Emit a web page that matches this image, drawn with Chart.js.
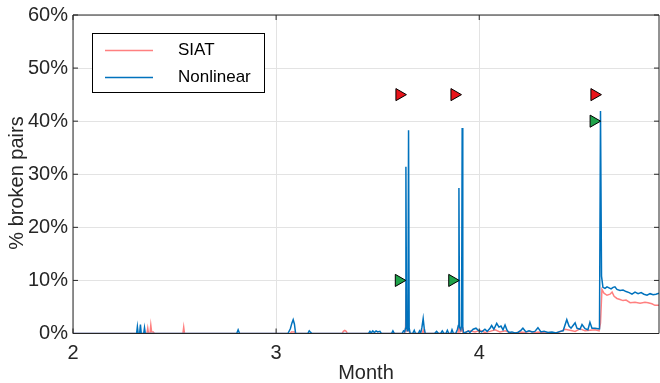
<!DOCTYPE html>
<html>
<head>
<meta charset="utf-8">
<script src="https://cdn.jsdelivr.net/npm/chart.js@4.4.1/dist/chart.umd.min.js"></script>
<style>
  html, body { margin: 0; padding: 0; background: #fff; }
  #wrap { width: 660px; height: 383px; }
</style>
</head>
<body>
<div id="wrap"><canvas id="chart" width="660" height="383"></canvas></div>
<script>
// month values (x) and % broken pairs (y)
const siatMonth = [2.000, 2.364, 2.368, 2.372, 2.379, 2.383, 2.387, 2.395, 2.398,
  2.541, 2.545, 2.549, 3.070, 3.075, 3.090, 3.095, 3.325, 3.331, 3.338, 3.345, 3.351,
  3.570, 3.576, 3.582, 3.630, 3.637, 3.641, 3.645, 3.652, 3.658, 3.720, 3.724, 3.730,
  3.895, 3.900, 3.905, 3.912, 3.916, 3.920,
  3.930, 3.954, 3.979, 4.004, 4.028, 4.053, 4.078, 4.102, 4.127, 4.151, 4.176, 4.201,
  4.225, 4.250, 4.274, 4.299, 4.324, 4.348, 4.373, 4.398, 4.422, 4.447, 4.472, 4.496,
  4.521, 4.545, 4.570, 4.590, 4.597, 4.604, 4.614, 4.629, 4.644, 4.654, 4.664, 4.678,
  4.693, 4.708, 4.723, 4.743, 4.767, 4.792, 4.816, 4.831, 4.850, 4.865, 4.885];
const siatPct = [0, 0, 1.0, 0, 0, 1.6, 0.3, 0.3, 0,
  0, 1.2, 0, 0, 0.3, 0.3, 0, 0, 0.4, 0.6, 0.4, 0,
  0, 0.3, 0, 0, 0.5, 8.7, 0.5, 0.8, 0, 0, 0.6, 0,
  0, 1.5, 0.3, 0.5, 1.2, 0,
  0.2, 0.5, 0.3, 0.6, 0.2, 0.4, 0.7, 0.3, 0.5, 0.2, 0.1, 0.3,
  0.2, 0.4, 0.2, 0.3, 0.1, 0.2, 0.1, 0.3, 0.8, 0.6, 0.4, 0.9,
  0.5, 0.6, 0.7, 0.5, 2.0, 8.3, 7.6, 7.2, 7.4, 7.8, 7.0, 6.6,
  6.4, 6.2, 6.3, 5.8, 5.9, 5.7, 5.9, 5.8, 5.6, 5.3, 5.3];

const nonlinMonth = [2.000, 2.313, 2.317, 2.321, 2.328, 2.332, 2.336, 2.348, 2.352, 2.356,
  2.806, 2.813, 2.820, 3.058, 3.070, 3.078, 3.084, 3.090, 3.096,
  3.156, 3.163, 3.170, 3.176, 3.455, 3.462, 3.468, 3.476, 3.484, 3.492, 3.500, 3.511, 3.518,
  3.568, 3.575, 3.582, 3.620, 3.627, 3.633, 3.637, 3.639, 3.642, 3.646, 3.649, 3.652, 3.655, 3.660,
  3.672, 3.680, 3.686, 3.700, 3.706, 3.712, 3.718, 3.724, 3.729, 3.734,
  3.780, 3.790, 3.800, 3.810, 3.818, 3.826, 3.836, 3.843, 3.850, 3.860, 3.866, 3.873,
  3.884, 3.893, 3.897, 3.900, 3.903, 3.909, 3.913, 3.916, 3.919, 3.924,
  3.946, 3.954, 3.970, 3.984, 3.995, 4.012, 4.028, 4.039, 4.053, 4.061, 4.072, 4.086,
  4.097, 4.107, 4.117, 4.127, 4.137, 4.146, 4.161, 4.176, 4.190, 4.205, 4.215, 4.230,
  4.245, 4.260, 4.274, 4.289, 4.304, 4.319, 4.339, 4.358, 4.378, 4.398, 4.413, 4.431,
  4.442, 4.452, 4.462, 4.472, 4.481, 4.496, 4.506, 4.521, 4.535, 4.545, 4.555, 4.570,
  4.585, 4.592, 4.597, 4.602, 4.609, 4.619, 4.629, 4.639, 4.649, 4.659, 4.668, 4.678,
  4.693, 4.708, 4.723, 4.738, 4.752, 4.767, 4.782, 4.797, 4.811, 4.826, 4.841, 4.856,
  4.870, 4.885];
const nonlinPct = [0, 0, 1.3, 0, 0, 1.7, 0, 0, 1.1, 0,
  0, 0.7, 0, 0, 0.9, 2.0, 2.6, 1.8, 0,
  0, 0.5, 0.2, 0, 0, 0.4, 0.1, 0.5, 0.2, 0.5, 0.3, 0.4, 0,
  0, 0.5, 0, 0, 0.5, 0.3, 1.0, 31.4, 2.0, 0.5, 1.0, 38.3, 1.0, 0,
  0, 0.6, 0, 0, 0.5, 0.1, 1.2, 2.8, 1.0, 0,
  0, 0.4, 0, 0, 0.5, 0, 0, 0.6, 0, 0, 0.7, 0,
  0, 0.8, 1.5, 27.4, 1.2, 0.7, 1.5, 38.7, 1.0, 0,
  0.5, 0.2, 0.8, 1.0, 0.6, 0.3, 0.8, 0.4, 1.0, 1.5, 0.8, 1.9,
  1.2, 1.4, 0.7, 1.6, 0.6, 0.2, 0.3, 0.1, 0.2, 0.6, 1.0, 0.3,
  0.5, 0.3, 0.4, 1.1, 0.3, 0.4, 0.2, 0.3, 0.1, 0.4, 0.5, 2.6,
  1.4, 1.0, 1.5, 2.0, 1.0, 0.8, 1.7, 0.9, 0.7, 2.1, 1.0, 1.0,
  0.9, 0.9, 41.9, 10.8, 8.7, 8.5, 8.8, 8.6, 8.4, 8.7, 8.8, 8.3,
  8.1, 8.2, 7.9, 7.7, 7.4, 7.8, 7.5, 7.7, 7.4, 7.2, 7.5, 7.3,
  7.4, 7.6];

// event markers
const redMarkMonth = [3.607, 3.878, 4.567];
const redMarkPct = [45, 45, 45];
const greenMarkMonth = [3.604, 3.867, 4.563];
const greenMarkPct = [10, 10, 40];

const yTicks = [0, 10, 20, 30, 40, 50, 60];
const xTicks = [2, 3, 4];
const legendNames = ['SIAT', 'Nonlinear'];
const yTitle = '% broken pairs';

const pinkColor = '#ff8080';
const blueColor = '#0072bd';
const axisColor = '#262626';
const fontFamily = '"Liberation Sans", Arial, sans-serif';

const toPoints = (xs, ys) => xs.map((x, i) => ({ x: x, y: ys[i] }));

// box frame, inward ticks, y title and legend box like the original figure
const framePlugin = {
  id: 'frame',
  afterDatasetsDraw(chart) {
    const { ctx, chartArea: a, scales } = chart;
    ctx.save();
    ctx.strokeStyle = axisColor;
    ctx.lineWidth = 1;
    ctx.beginPath();
    ctx.rect(a.left, a.top, a.right - a.left, a.bottom - a.top);
    ctx.stroke();
    ctx.beginPath();
    xTicks.forEach(t => {
      const px = scales.x.getPixelForValue(t);
      ctx.moveTo(px, a.bottom); ctx.lineTo(px, a.bottom - 5);
      ctx.moveTo(px, a.top); ctx.lineTo(px, a.top + 5);
    });
    yTicks.forEach(t => {
      const py = scales.y.getPixelForValue(t);
      ctx.moveTo(a.left, py); ctx.lineTo(a.left + 5, py);
      ctx.moveTo(a.right, py); ctx.lineTo(a.right - 5, py);
    });
    ctx.stroke();

    // y axis title
    ctx.save();
    ctx.translate(17, 183);
    ctx.rotate(-Math.PI / 2);
    ctx.font = '20px ' + fontFamily;
    ctx.fillStyle = axisColor;
    ctx.textAlign = 'center';
    ctx.textBaseline = 'middle';
    ctx.fillText(yTitle, 0, 0);
    ctx.restore();

    // legend
    const bx = 92.5, by = 33.5, bw = 172, bh = 59;
    ctx.fillStyle = '#fff';
    ctx.fillRect(bx, by, bw, bh);
    ctx.strokeStyle = '#000';
    ctx.strokeRect(bx, by, bw, bh);
    const rows = [50.5, 77.5];
    const cols = [pinkColor, blueColor];
    ctx.font = '17px ' + fontFamily;
    ctx.textBaseline = 'middle';
    rows.forEach((ry, i) => {
      ctx.strokeStyle = cols[i];
      ctx.lineWidth = 1.5;
      ctx.beginPath();
      ctx.moveTo(105, ry); ctx.lineTo(153, ry);
      ctx.stroke();
      ctx.fillStyle = '#000';
      ctx.fillText(legendNames[i], 178, ry);
    });
    ctx.restore();
  }
};

new Chart(document.getElementById('chart'), {
  type: 'scatter',
  data: {
    datasets: [
      {
        label: 'red marks',
        data: toPoints(redMarkMonth, redMarkPct),
        pointStyle: 'triangle',
        rotation: 90,
        pointRadius: 7,
        backgroundColor: '#e8141b',
        borderColor: '#000',
        borderWidth: 1,
        showLine: false,
        order: 0
      },
      {
        label: 'green marks',
        data: toPoints(greenMarkMonth, greenMarkPct),
        pointStyle: 'triangle',
        rotation: 90,
        pointRadius: 7,
        backgroundColor: '#1fa34a',
        borderColor: '#000',
        borderWidth: 1,
        showLine: false,
        order: 0
      },
      {
        label: legendNames[1],
        data: toPoints(nonlinMonth, nonlinPct),
        showLine: true,
        borderColor: blueColor,
        borderWidth: 1.5,
        pointRadius: 0,
        tension: 0,
        order: 1
      },
      {
        label: legendNames[0],
        data: toPoints(siatMonth, siatPct),
        showLine: true,
        borderColor: pinkColor,
        borderWidth: 1.5,
        pointRadius: 0,
        tension: 0,
        order: 2
      }
    ]
  },
  options: {
    responsive: false,
    animation: false,
    devicePixelRatio: 1,
    layout: { autoPadding: false, padding: { left: 0, top: 15, right: 1, bottom: 0 } },
    plugins: {
      legend: { display: false },
      tooltip: { enabled: false }
    },
    scales: {
      x: {
        type: 'linear',
        min: 2,
        max: 4.885,
        afterFit: (s) => { s.height = 49.5; s.paddingLeft = 0; s.paddingRight = 0; },
        afterBuildTicks: (s) => { s.ticks = xTicks.map(v => ({ value: v })); },
        grid: { color: '#e3e3e3', drawTicks: false },
        border: { display: false },
        ticks: {
          padding: 8,
          color: axisColor,
          font: { family: fontFamily, size: 20 },
          callback: (v) => String(v)
        },
        title: {
          display: true,
          text: 'Month',
          color: axisColor,
          font: { family: fontFamily, size: 20, lineHeight: 1 },
          padding: { top: 0, bottom: 0 }
        }
      },
      y: {
        min: 0,
        max: 60,
        afterFit: (s) => { s.width = 73; s.paddingTop = 0; s.paddingBottom = 0; },
        afterBuildTicks: (s) => { s.ticks = yTicks.map(v => ({ value: v })); },
        grid: { color: '#e3e3e3', drawTicks: false },
        border: { display: false },
        ticks: {
          padding: 5,
          color: axisColor,
          font: { family: fontFamily, size: 20 },
          callback: (v) => v + '%'
        }
      }
    }
  },
  plugins: [framePlugin]
});
</script>
</body>
</html>
